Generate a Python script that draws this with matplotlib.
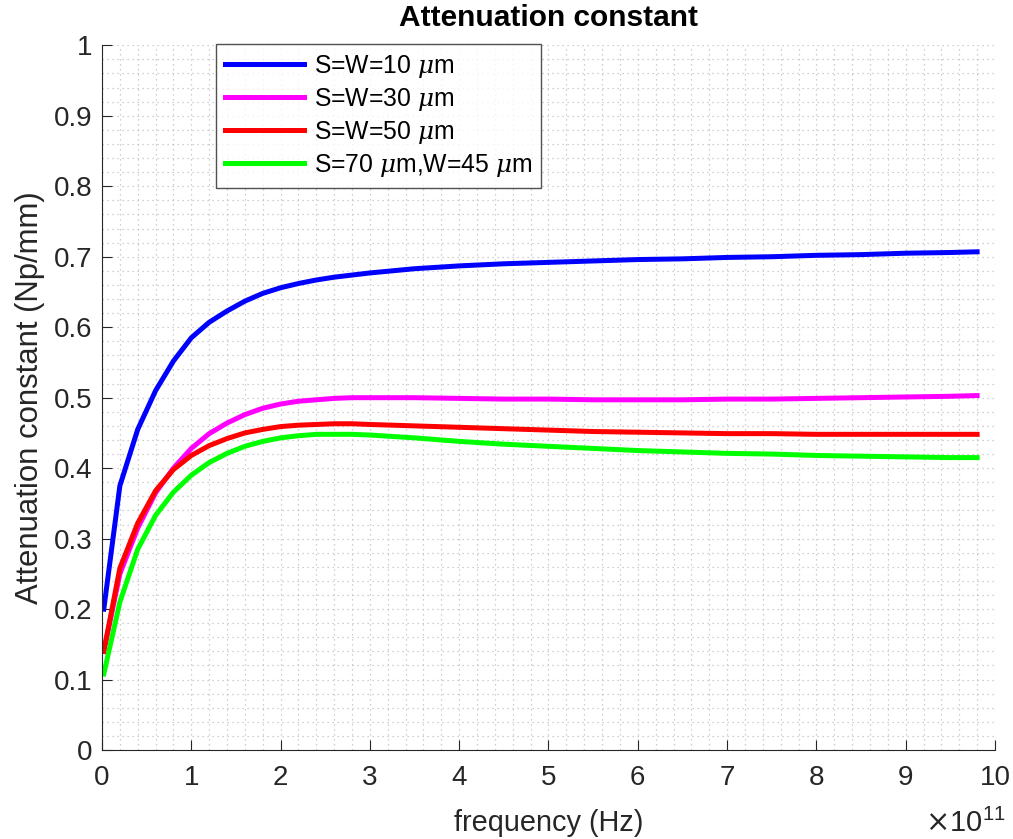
import matplotlib.pyplot as plt
import numpy as np
from matplotlib.ticker import MultipleLocator

plt.rcParams['font.family'] = ['Liberation Sans', 'DejaVu Sans']
plt.rcParams['mathtext.fontset'] = 'dejavuserif'

# frequency points (in units of 1e11 Hz)
freq = [0.02, 0.2, 0.4, 0.6, 0.8, 1.0, 1.2, 1.4, 1.6, 1.8, 2.0, 2.2, 2.4, 2.6, 2.8, 3.0,
        3.5, 4.0, 4.5, 5.0, 5.5, 6.0, 6.5, 7.0, 7.5, 8.0, 8.5, 9.0, 9.5, 9.8]

sw10 = [0.200, 0.375, 0.455, 0.510, 0.552, 0.585, 0.607, 0.623, 0.637, 0.648, 0.656, 0.662,
        0.667, 0.671, 0.674, 0.677, 0.683, 0.687, 0.690, 0.692, 0.694, 0.696, 0.697, 0.699,
        0.700, 0.702, 0.703, 0.705, 0.706, 0.707]
sw30 = [0.140, 0.250, 0.315, 0.365, 0.400, 0.428, 0.449, 0.464, 0.476, 0.485, 0.491, 0.495,
        0.497, 0.499, 0.500, 0.500, 0.500, 0.499, 0.498, 0.498, 0.497, 0.497, 0.497, 0.498,
        0.498, 0.499, 0.500, 0.501, 0.502, 0.503]
sw50 = [0.140, 0.258, 0.322, 0.368, 0.398, 0.418, 0.432, 0.442, 0.450, 0.455, 0.459, 0.461,
        0.462, 0.463, 0.463, 0.462, 0.460, 0.458, 0.456, 0.454, 0.452, 0.451, 0.450, 0.449,
        0.449, 0.448, 0.448, 0.448, 0.448, 0.448]
s70w45 = [0.108, 0.210, 0.285, 0.333, 0.366, 0.390, 0.408, 0.421, 0.431, 0.438, 0.443, 0.446,
          0.448, 0.448, 0.448, 0.447, 0.443, 0.438, 0.434, 0.431, 0.428, 0.425, 0.423, 0.421,
          0.420, 0.418, 0.417, 0.416, 0.415, 0.415]

labels = [r'S=W=10 $\mu$m', r'S=W=30 $\mu$m', r'S=W=50 $\mu$m', r'S=70 $\mu$m,W=45 $\mu$m']
colors = ['#0000ff', '#ff00ff', '#ff0000', '#00ff00']

fig = plt.figure(figsize=(10.13, 8.39), dpi=100)
ax = fig.add_axes([0.1007, 0.106, 0.8815, 0.840])

f = np.array(freq) * 1e11
for y, c, lab in zip([sw10, sw30, sw50, s70w45], colors, labels):
    ax.plot(f, y, color=c, linewidth=3.6, label=lab)

ax.set_xlim(0, 1e12)
ax.set_ylim(0, 1)
ax.set_xticks(np.arange(0, 11) * 1e11)
ax.set_xticklabels([str(i) for i in range(11)])
ax.set_yticks(np.arange(0, 11) / 10)
ax.set_yticklabels(['0'] + [f'{v/10:.1f}' for v in range(1, 10)] + ['1'])
ax.xaxis.set_minor_locator(MultipleLocator(0.2e11))
ax.yaxis.set_minor_locator(MultipleLocator(0.02))
ax.grid(which='both', color='#c0c0c0', linestyle=(0, (1, 3)), linewidth=0.9)
ax.set_axisbelow(True)
ax.tick_params(which='minor', length=0)
ax.tick_params(axis='x', which='major', pad=11)
ax.tick_params(axis='y', which='major', pad=7)
ax.tick_params(which='major', direction='in', length=7, labelsize=20, color='#262626',
               labelcolor='#262626', top=False, right=False)
for s in ax.spines.values():
    s.set_color('#262626')
ax.spines['top'].set_visible(False)
ax.spines['right'].set_visible(False)

ax.set_title('Attenuation constant', fontsize=21.5, fontweight='bold', pad=14)
ax.set_xlabel('frequency (Hz)', fontsize=20.8, color='#262626', labelpad=13)
ax.set_ylabel('Attenuation constant (Np/mm)', fontsize=22.4, color='#262626', labelpad=6)
ax.text(1.012, -0.083, r'$\times\mathregular{10^{11}}$', transform=ax.transAxes,
        fontsize=21, ha='right', va='top', color='#262626')

leg = ax.legend(loc='upper left', bbox_to_anchor=(0.128, 1.002), fontsize=17.8,
                frameon=True, fancybox=False, edgecolor='#262626', handlelength=3.2,
                borderpad=0.35, labelspacing=0.25, handletextpad=0.4, borderaxespad=0)
leg.get_frame().set_linewidth(1.0)

fig.savefig('out.png', dpi=100)
